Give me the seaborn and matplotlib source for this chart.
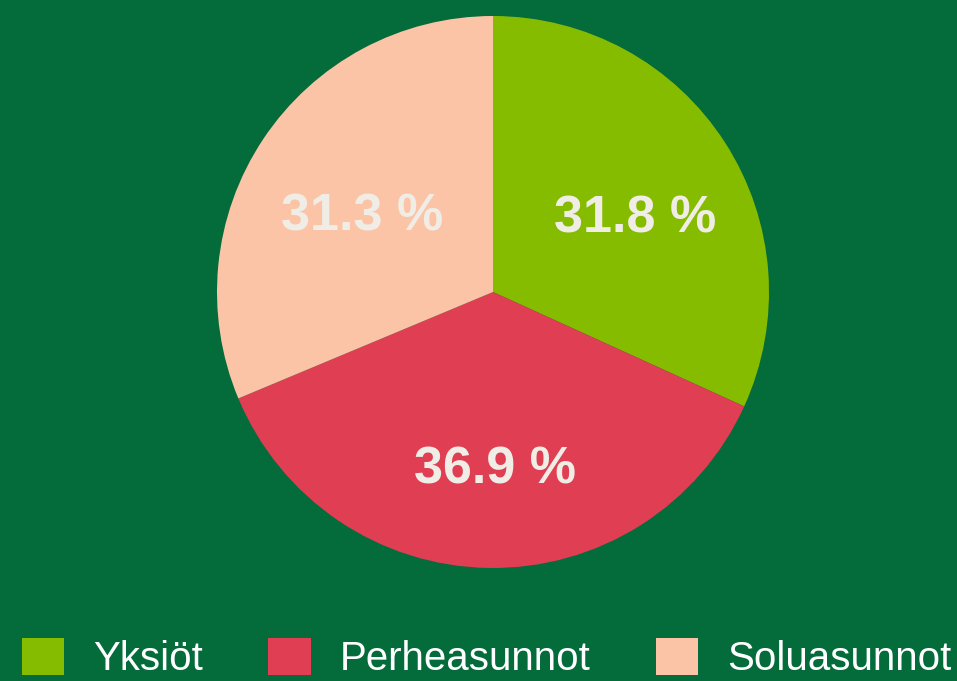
import matplotlib
matplotlib.use("Agg")
import matplotlib.pyplot as plt
import seaborn as sns
from matplotlib.patches import Patch
from matplotlib.transforms import offset_copy

# data
categories = ["Yksiöt", "Perheasunnot", "Soluasunnot"]
shares = [31.8, 36.9, 31.3]
colors = ["#86bc00", "#e03e52", "#fbc4a6"]

bg = "#046b3b"
label_color = "#efede6"

sns.set_theme(style="white")
plt.rcParams["font.family"] = ["Liberation Sans", "DejaVu Sans"]

fig = plt.figure(figsize=(9.57, 6.81), dpi=100, facecolor=bg)
W, H = 957, 681
cx, cy, r = 493, 389, 276
ax = fig.add_axes([(cx - r) / W, (cy - r) / H, 2 * r / W, 2 * r / H])
ax.set_facecolor(bg)

wedges, texts, autotexts = ax.pie(
    shares, colors=colors, startangle=90, counterclock=False,
    autopct=lambda p: f"{p:.1f} %", pctdistance=0.59, radius=1,
    wedgeprops=dict(linewidth=0),
    textprops=dict(color=label_color, fontsize=37.5, fontweight="bold"),
)
# nudge labels so the digits sit where they do in the original
for t in autotexts:
    t.set_transform(offset_copy(t.get_transform(), fig=fig, x=5, y=-15, units="dots"))

ax.set_xlim(-1, 1)
ax.set_ylim(-1, 1)
ax.set_aspect("equal")
ax.axis("off")

handles = [Patch(facecolor=c, edgecolor="none", label=l) for c, l in zip(colors, categories)]
fig.legend(handles=handles, loc="upper left", bbox_to_anchor=(22 / W, 1 - 638 / H),
           ncol=3, frameon=False, fontsize=29, labelcolor="white",
           handlelength=1.05, handleheight=1.05, handletextpad=0.72,
           columnspacing=1.62, borderpad=0, borderaxespad=0)

fig.savefig("out.png", dpi=100, facecolor=bg)
